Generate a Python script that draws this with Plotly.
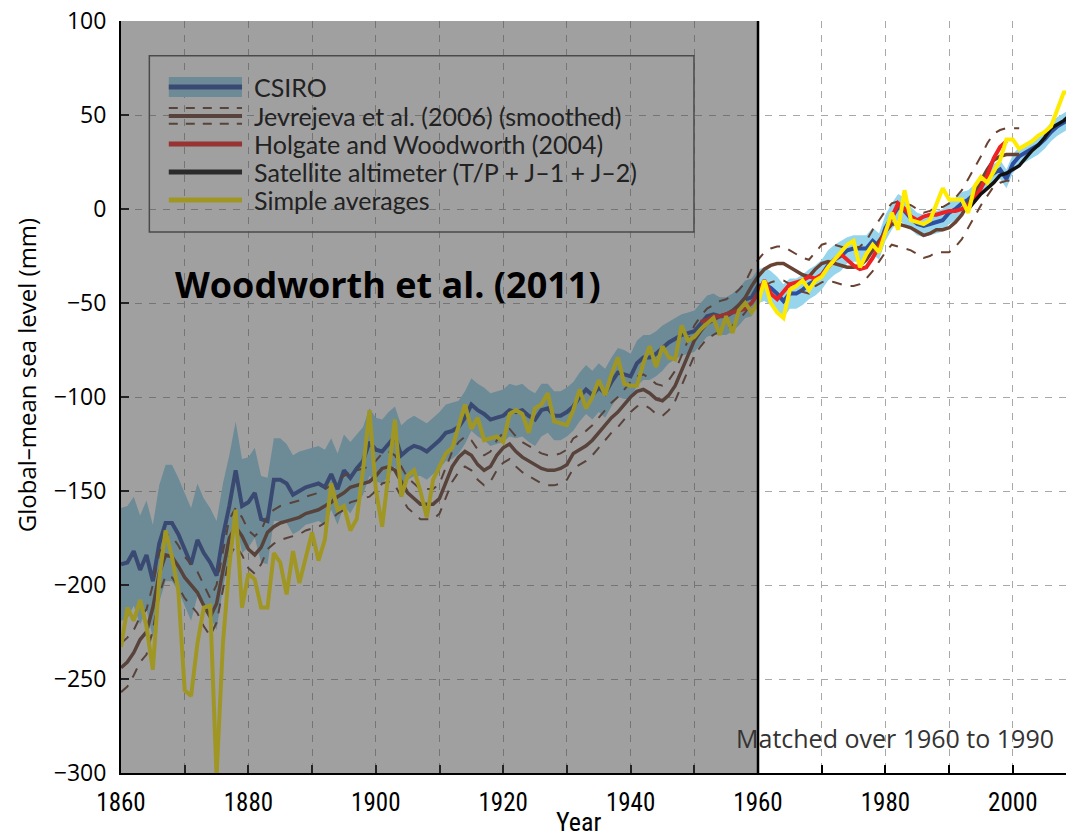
import plotly.graph_objects as go

# ---------------- data ----------------
csiro_years = list(range(1860, 2010))
csiro = [-189, -188, -182, -192, -184, -198, -178, -167, -167, -173,
         -181, -189, -176, -183, -188, -195, -174, -158, -139, -158,
         -156, -151, -165, -166, -144, -144, -146, -152, -150, -148,
         -147, -146, -148, -141, -149, -139, -143, -138, -134, -124,
         -128, -129, -125, -121, -131, -128, -126, -127, -129, -126,
         -123, -119, -118, -116, -111, -104, -107, -109, -112, -111,
         -110, -107, -108, -107, -110, -112, -107, -106, -110, -110,
         -108, -105, -100, -96, -99, -95, -98, -92, -87, -88,
         -89, -82, -79, -79, -77, -74, -71, -69, -67, -66,
         -65, -61, -57, -56, -57, -57, -55, -52, -48, -47,
         -41, -40, -42, -45, -49, -45, -45, -43, -40, -38,
         -35, -30, -27, -25, -22, -21, -21, -21, -17, -20,
         -10, -4, 1, -1, -5, -8, -9, -8, -7, -6,
         -2, 0, 3, 5, 8, 12, 16, 19, 21, 16,
         24, 28, 30, 32, 34, 37, 41, 44, 46, 48]
csiro_err = [30, 30, 29, 29, 29, 30, 31, 31, 31, 30,
             30, 30, 30, 29, 29, 29, 28, 27, 26, 25,
             24, 24, 23, 23, 22, 22, 21, 21, 21, 20,
             20, 20, 20, 19, 19, 19, 19, 18, 18, 18,
             17, 17, 17, 16, 16, 16, 16, 15, 15, 15,
             15, 15, 15, 14, 14, 14, 14, 14, 14, 14,
             14, 14, 14, 14, 14, 14, 14, 13, 13, 13,
             13, 13, 13, 13, 13, 13, 13, 13, 13, 13,
             12, 12, 12, 12, 12, 12, 11, 11, 11, 11,
             11, 11, 11, 11, 10, 10, 10, 10, 10, 10,
             9, 9, 9, 9, 9, 8, 8, 8, 8, 8,
             8, 8, 8, 8, 7, 7, 7, 7, 7, 7,
             7, 7, 7, 7, 6, 6, 6, 6, 6, 6,
             6, 6, 6, 5, 5, 5, 5, 5, 5, 5,
             5, 5, 5, 5, 5, 5, 5, 5, 5, 5]

jev_years = list(range(1860, 2002))
jev = [-244, -241, -236, -229, -225, -212, -194, -184, -185, -190,
       -196, -200, -204, -211, -217, -210, -193, -175, -169, -174,
       -181, -184, -180, -172, -169, -167, -166, -165, -164, -162,
       -161, -160, -158, -156, -153, -151, -148, -147, -146, -145,
       -142, -138, -137, -139, -145, -151, -154, -157, -157, -157,
       -154, -146, -137, -132, -129, -131, -136, -139, -137, -131,
       -127, -125, -129, -132, -134, -136, -138, -139, -139, -138,
       -136, -130, -128, -126, -123, -119, -115, -111, -108, -104,
       -100, -97, -96, -98, -101, -102, -99, -94, -86, -77,
       -70, -65, -61, -59, -57, -56, -54, -51, -47, -41,
       -36, -32, -30, -29, -29, -31, -33, -35, -36, -32,
       -29, -28, -29, -30, -31, -31, -30, -27, -22, -17,
       -12, -8, -8, -9, -10, -12, -14, -13, -11, -11,
       -10, -7, -3, 3, 9, 15, 21, 26, 28, 29,
       29, 29]
jev_err = [13, 13, 12, 12, 12, 12, 11, 11, 11, 11,
           11, 11, 11, 11, 10, 10, 10, 10, 10, 10,
           10, 10, 9, 9, 9, 9, 9, 9, 9, 9,
           9, 9, 9, 9, 9, 9, 8, 8, 8, 8,
           8, 8, 8, 8, 8, 8, 8, 8, 8, 8,
           8, 8, 8, 8, 8, 8, 8, 8, 8, 8,
           8, 8, 8, 8, 8, 8, 8, 8, 8, 8,
           8, 8, 8, 8, 8, 8, 8, 8, 8, 8,
           8, 8, 8, 8, 8, 8, 8, 8, 8, 8,
           8, 8, 8, 8, 8, 8, 8, 8, 8, 9,
           9, 9, 9, 9, 9, 9, 9, 9, 9, 9,
           10, 10, 10, 10, 10, 10, 10, 10, 11, 11,
           11, 11, 12, 12, 12, 12, 12, 12, 12, 12,
           13, 13, 13, 13, 13, 13, 14, 14, 14, 14,
           14, 14]

hw_years = list(range(1951, 2000))
hw = [-60, -59, -57, -57, -56, -55, -54, -53, -50,
      -45, -38, -45, -48, -44, -40, -39, -38, -36, -37,
      -35, -31, -27, -24, -27, -30, -32, -31, -26, -20,
      -12, -5, 3, 0, -4, -6, -4, -3, -3, -2,
      -1, -1, 0, 2, 6, 11, 18, 27, 33, 36]

sat_years = list(range(1993, 2010))
sat = [0, 4, 8, 11, 14, 18, 19, 21, 23, 27, 31, 34, 38, 43, 45, 47, 50]

simple_years = list(range(1860, 2010))
simple = [-233, -212, -219, -208, -222, -245, -197, -171, -185, -203,
          -256, -259, -231, -212, -211, -302, -231, -190, -160, -212,
          -194, -197, -212, -212, -183, -188, -205, -182, -199, -185,
          -172, -187, -176, -146, -160, -158, -171, -165, -139, -107,
          -149, -169, -140, -112, -153, -142, -139, -150, -164, -144,
          -137, -130, -127, -116, -104, -117, -111, -123, -122, -121,
          -124, -109, -107, -109, -119, -106, -104, -98, -113, -114,
          -115, -107, -96, -106, -100, -91, -99, -88, -79, -93,
          -94, -94, -82, -73, -84, -73, -79, -80, -62, -70,
          -68, -64, -61, -58, -67, -57, -66, -54, -50, -55,
          -50, -38, -50, -55, -58, -43, -41, -38, -43, -38,
          -36, -31, -27, -23, -19, -17, -31, -24, -19, -23,
          -13, -2, -11, 10, -6, -7, -8, -6, 2, 11,
          5, 5, 5, -2, 12, 17, 14, 20, 26, 37,
          37, 32, 34, 36, 39, 41, 44, 53, 62, 62]

x_ticks = [1860, 1880, 1900, 1920, 1940, 1960, 1980, 2000]
y_ticks = [-300, -250, -200, -150, -100, -50, 0, 50, 100]

legend_names = ["CSIRO", "Jevrejeva et al. (2006) (smoothed)",
                "Holgate and Woodworth (2004)",
                "Satellite altimeter (T/P + J\u20131 + J\u20132)",
                "Simple averages"]

# ---------------- styles ----------------
C_BAND = "#97d5ec"
C_CSIRO = "#2e4f9f"
C_JEV = "#6a4231"
C_HW = "#ee2222"
C_SAT = "#111111"
C_SIMPLE = "#ffeb00"
NARROW = "Liberation Sans Narrow, Roboto Condensed, Arial Narrow, sans-serif"

fig = go.Figure()

upper = [v + e for v, e in zip(csiro, csiro_err)]
lower = [v - e for v, e in zip(csiro, csiro_err)]
fig.add_trace(go.Scatter(x=csiro_years, y=upper, mode="lines",
                         line=dict(width=0, color=C_BAND), hoverinfo="skip",
                         showlegend=False))
fig.add_trace(go.Scatter(x=csiro_years, y=lower, mode="lines", fill="tonexty",
                         fillcolor=C_BAND, line=dict(width=0, color=C_BAND),
                         hoverinfo="skip", showlegend=False))
fig.add_trace(go.Scatter(x=csiro_years, y=csiro, mode="lines",
                         line=dict(width=4, color=C_CSIRO), name=legend_names[0],
                         showlegend=False))

jev_hi = [v + e for v, e in zip(jev, jev_err)]
jev_lo = [v - e for v, e in zip(jev, jev_err)]
for b in (jev_hi, jev_lo):
    fig.add_trace(go.Scatter(x=jev_years, y=b, mode="lines",
                             line=dict(width=2, color=C_JEV, dash="10px,9px"),
                             showlegend=False, hoverinfo="skip"))
fig.add_trace(go.Scatter(x=jev_years, y=jev, mode="lines",
                         line=dict(width=3.5, color=C_JEV), name=legend_names[1],
                         showlegend=False))
fig.add_trace(go.Scatter(x=hw_years, y=hw, mode="lines",
                         line=dict(width=4, color=C_HW), name=legend_names[2],
                         showlegend=False))
fig.add_trace(go.Scatter(x=sat_years, y=sat, mode="lines",
                         line=dict(width=3.5, color=C_SAT), name=legend_names[3],
                         showlegend=False))
fig.add_trace(go.Scatter(x=simple_years, y=simple, mode="lines",
                         line=dict(width=4, color=C_SIMPLE), name=legend_names[4],
                         showlegend=False))

# ---------------- manual legend (drawn beneath the grey overlay) ----------------
shapes = []
lx0, lx1, ltext = 1867.5, 1879.0, 1880.5
rows = [64.9, 49.5, 34.6, 19.7, 4.8]
shapes.append(dict(type="rect", xref="x", yref="y", x0=1864.45, x1=1949.95,
                   y0=-12.2, y1=81.5, line=dict(color="#505050", width=1.5),
                   fillcolor="rgba(0,0,0,0)", layer="above"))
shapes.append(dict(type="rect", xref="x", yref="y", x0=lx0, x1=lx1,
                   y0=rows[0] - 5.3, y1=rows[0] + 5.3, line=dict(width=0),
                   fillcolor=C_BAND, layer="above"))
shapes.append(dict(type="line", xref="x", yref="y", x0=lx0, x1=lx1, y0=rows[0],
                   y1=rows[0], line=dict(color=C_CSIRO, width=5), layer="above"))
for off in (4.2, -4.2):
    shapes.append(dict(type="line", xref="x", yref="y", x0=lx0, x1=lx1,
                       y0=rows[1] + off, y1=rows[1] + off,
                       line=dict(color=C_JEV, width=2, dash="9px,8px"), layer="above"))
shapes.append(dict(type="line", xref="x", yref="y", x0=lx0, x1=lx1, y0=rows[1],
                   y1=rows[1], line=dict(color=C_JEV, width=4), layer="above"))
for r, c in zip(rows[2:], (C_HW, C_SAT, C_SIMPLE)):
    shapes.append(dict(type="line", xref="x", yref="y", x0=lx0, x1=lx1, y0=r, y1=r,
                       line=dict(color=c, width=5), layer="above"))

# grey overlay over 1860-1960
shapes.append(dict(type="rect", xref="x", yref="paper", x0=1860, x1=1960, y0=0, y1=1,
                   fillcolor="rgba(69,69,69,0.51)", line=dict(width=0), layer="above"))
shapes.append(dict(type="line", xref="x", yref="paper", x0=1960, x1=1960, y0=0, y1=1,
                   line=dict(color="black", width=2.5), layer="above"))

annotations = []
for r, name in zip(rows, legend_names):
    annotations.append(dict(x=ltext, y=r, xref="x", yref="y", text=name,
                            showarrow=False, xanchor="left", yanchor="middle",
                            font=dict(family="Lato", size=25, color="#222222")))
annotations.append(dict(x=1901.9, y=-40.4, xref="x", yref="y",
                        text="<b>Woodworth et al. (2011)</b>", showarrow=False,
                        xanchor="center", yanchor="middle",
                        font=dict(family="Open Sans", size=36, color="black")))
annotations.append(dict(x=1981.5, y=-281.4, xref="x", yref="y",
                        text="Matched over 1960 to 1990", showarrow=False,
                        xanchor="center", yanchor="middle",
                        font=dict(family="Open Sans", size=25, color="#333333")))
annotations.append(dict(x=-0.1005, y=0.529, xref="paper", yref="paper",
                        text="Global\u2013mean sea level (mm)", showarrow=False,
                        xanchor="center", yanchor="middle",
                        textangle=-90, font=dict(family="Open Sans", size=24, color="black")))
annotations.append(dict(x=0.4836, y=-0.0652, xref="paper", yref="paper",
                        text="Year", showarrow=False,
                        xanchor="center", yanchor="middle",
                        font=dict(family=NARROW, size=26, color="black")))

GRID = "#a8a8a8"
fig.update_layout(
    width=1066, height=837,
    margin=dict(l=121, r=0, t=21, b=64, autoexpand=False),
    paper_bgcolor="white", plot_bgcolor="white",
    showlegend=False,
    shapes=shapes, annotations=annotations,
    xaxis=dict(range=[1860, 2008.35], tickvals=x_ticks, showgrid=True,
               gridcolor=GRID, griddash="7px,7px", gridwidth=1.3,
               ticks="inside", ticklen=8, tickwidth=1.5, tickcolor="black",
               showline=True, linecolor="black", linewidth=2,
               tickfont=dict(family=NARROW, size=25, color="black"),
               ticklabelstandoff=6, zeroline=False, automargin=False,
               minor=dict(dtick=10, tick0=1860, showgrid=True, gridcolor=GRID,
                          griddash="7px,7px", gridwidth=1.3, ticks="inside",
                          ticklen=8, tickwidth=1.5, tickcolor="black")),
    yaxis=dict(range=[-300, 100], tickvals=y_ticks, showgrid=True,
               gridcolor=GRID, griddash="7px,7px", gridwidth=1.3,
               ticks="inside", ticklen=8, tickwidth=1.5, tickcolor="black",
               showline=True, linecolor="black", linewidth=2,
               tickfont=dict(family="Open Sans", size=23, color="black"),
               ticklabelstandoff=8, zeroline=False, automargin=False),
)

# remove the browser's default 8px page margin so the figure fills the window
fig.write_html("out.html",
               config={"displayModeBar": False},
               post_script="document.body.style.margin='0px';"
                           "document.body.style.overflow='hidden';")
